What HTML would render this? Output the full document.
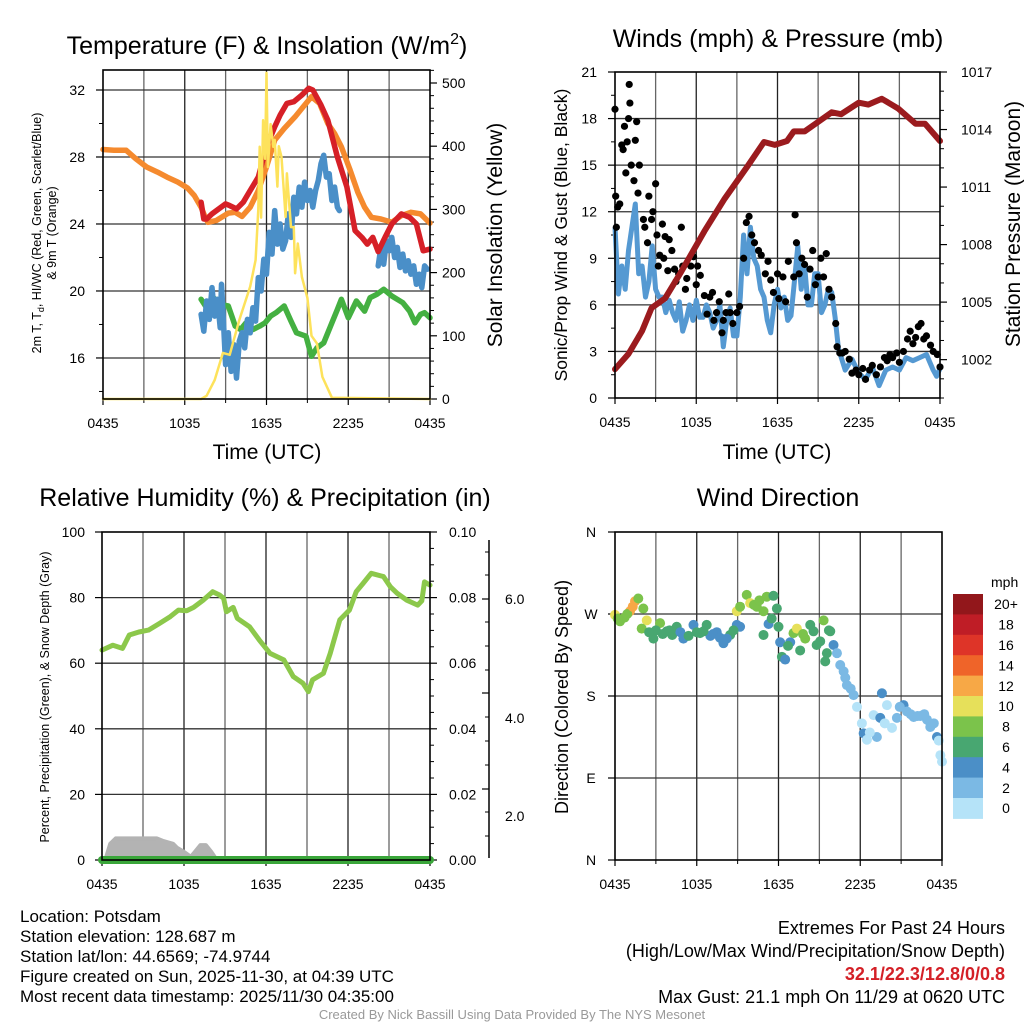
<!DOCTYPE html>
<html><head><meta charset="utf-8"><style>
html,body{margin:0;padding:0;background:#fff;}
svg{display:block;font-family:"Liberation Sans",Arial,sans-serif;}
</style></head><body>
<svg id="chart" width="1024" height="1024" viewBox="0 0 1024 1024" xmlns="http://www.w3.org/2000/svg">
<rect x="0" y="0" width="1024" height="1024" fill="#fff"/>
<text x="267" y="54" font-size="25" text-anchor="middle">Temperature (F) &amp; Insolation (W/m<tspan font-size="16" dy="-10">2</tspan><tspan dy="10">)</tspan></text>
<text x="778" y="47" font-size="25" text-anchor="middle">Winds (mph) &amp; Pressure (mb)</text>
<text x="265" y="506" font-size="25" text-anchor="middle">Relative Humidity (%) &amp; Precipitation (in)</text>
<text x="778" y="506" font-size="25" text-anchor="middle">Wind Direction</text>

<text x="267" y="459" font-size="21" text-anchor="middle">Time (UTC)</text>
<text x="777" y="459" font-size="21" text-anchor="middle">Time (UTC)</text>

<text transform="translate(41,233) rotate(-90)" font-size="12.5" text-anchor="middle">2m T, T<tspan font-size="9" dy="3">d</tspan><tspan dy="-3">, HI/WC (Red, Green, Scarlet/Blue)</tspan></text>
<text transform="translate(56,233) rotate(-90)" font-size="12.5" text-anchor="middle">&amp; 9m T (Orange)</text>
<text transform="translate(502,235) rotate(-90)" font-size="21" text-anchor="middle">Solar Insolation (Yellow)</text>
<text transform="translate(567,235) rotate(-90)" font-size="17.5" text-anchor="middle">Sonic/Prop Wind &amp; Gust (Blue, Black)</text>
<text transform="translate(1020,224) rotate(-90)" font-size="21" text-anchor="middle">Station Pressure (Maroon)</text>
<text transform="translate(49,697) rotate(-90)" font-size="12.5" text-anchor="middle">Percent, Precipitation (Green), &amp; Snow Depth (Gray)</text>
<text transform="translate(568,697) rotate(-90)" font-size="18" text-anchor="middle">Direction (Colored By Speed)</text>

<g font-size="17">
<text x="20" y="922">Location: Potsdam</text>
<text x="20" y="942">Station elevation: 128.687 m</text>
<text x="20" y="962">Station lat/lon: 44.6569; -74.9744</text>
<text x="20" y="982">Figure created on Sun, 2025-11-30, at 04:39 UTC</text>
<text x="20" y="1002">Most recent data timestamp: 2025/11/30 04:35:00</text>
</g>
<g font-size="18">
<text x="1005" y="934" text-anchor="end">Extremes For Past 24 Hours</text>
<text x="1005" y="957" text-anchor="end">(High/Low/Max Wind/Precipitation/Snow Depth)</text>
<text x="1005" y="980" text-anchor="end" font-weight="bold" fill="#d42027">32.1/22.3/12.8/0/0.8</text>
<text x="1005" y="1003" text-anchor="end">Max Gust: 21.1 mph On 11/29 at 0620 UTC</text>
</g>
<text x="512" y="1019" font-size="13" fill="#999" text-anchor="middle">Created By Nick Bassill Using Data Provided By The NYS Mesonet</text>
</svg>
<script>
// ---------- DATA ----------
const timeLabels = ["0435","1035","1635","2235","0435"];
// Panel 1: temperature (hours since 0435, degF)
const orangeT = [0,0.8,1.7,2.4,3.2,4.0,4.7,5.5,6.2,6.7,7.2,7.5,7.7,8.3,9.2,9.7,10.2,10.8,11.4,12.0,12.6,13.3,14.1,14.7,15.3,15.9,16.5,17.0,17.5,18.1,18.7,19.2,19.7,20.4,21.2,21.9,22.6,23.3,24];
const orangeV = [28.45,28.4,28.4,27.9,27.4,27.1,26.8,26.5,26.15,25.7,25.0,24.4,24.1,24.2,24.65,24.7,24.45,25.0,26.0,27.4,29.0,29.7,30.4,31.0,31.6,31.2,30.0,29.4,28.6,27.3,25.9,25.0,24.4,24.3,24.1,24.5,24.7,24.6,24.05];
const redT = [7.2,7.4,7.6,8.0,8.5,9.0,9.3,9.8,10.3,10.8,11.4,12.0,12.6,13.0,13.5,14.0,14.6,15.1,15.4,16.0,16.5,17.2,17.9,18.2,18.5,19.0,19.4,19.8,20.2,20.7,21.2,21.9,22.5,23.0,23.5,24];
const redV = [25.3,24.3,24.3,24.6,24.9,25.2,25.1,24.9,25.3,26.0,26.8,28.6,29.8,30.5,31.2,31.3,31.7,32.1,32.0,31.1,30.2,28.0,26.2,24.9,23.6,23.2,22.8,23.2,22.35,23.2,24.0,24.6,24.4,24.0,22.4,22.5];
const blueT = [7.2,7.4,7.6,7.8,8.0,8.2,8.4,8.6,8.7,8.85,9.0,9.2,9.4,9.6,9.8,10.0,10.2,10.4,10.6,10.8,11.0,11.2,11.4,11.6,11.8,12.0,12.2,12.4,12.6,12.8,13.0,13.2,13.4,13.6,13.8,14.0,14.2,14.4,14.6,14.8,15.0,15.2,15.4,15.6,15.8,16.0,16.2,16.4,16.6,16.8,17.0,17.2,17.35,18.0,20.2,20.4,20.6,20.8,21.0,21.2,21.4,21.6,21.8,22.0,22.2,22.4,22.6,22.8,23.0,23.2,23.4,23.6,23.8];
const blueV = [18.6,17.6,19.4,18.3,20.2,18.5,19.5,17.8,20.4,18.0,15.6,17.5,15.2,16.8,14.8,17.0,17.5,16.6,18.3,17.5,19.0,18.2,20.8,20.0,21.9,21.0,23.5,22.2,24.8,22.8,24.0,22.5,23.0,24.6,23.2,25.6,24.6,26.2,25.0,26.5,25.4,26.0,25.0,26.0,26.6,27.6,28.1,26.8,27.0,25.4,26.2,25.0,24.8,null,21.5,22.6,21.6,23.0,22.4,23.2,22.0,22.6,21.4,22.2,21.2,21.8,21.0,21.5,20.4,21.0,20.2,21.5,21.3];
const greenT = [7.2,7.6,8.1,8.6,9.2,9.5,9.7,10.1,10.5,11.0,11.5,11.9,12.3,12.7,13.3,13.8,14.2,14.9,15.2,15.3,15.7,16.2,16.8,17.2,17.5,18.0,18.6,19.2,19.6,20.1,20.6,21.2,22.0,22.5,22.9,23.3,23.6,24];
const greenV = [19.5,19.0,19.6,19.2,19.1,18.4,17.9,17.7,18.1,17.7,17.9,18.1,18.5,18.7,19.1,18.2,17.5,17.3,16.4,16.1,16.6,16.9,18.1,18.9,19.5,18.4,19.4,18.8,19.6,19.8,20.1,19.7,19.3,18.8,18.1,18.6,18.7,18.4];
const solarT = [0,7.2,7.6,8.2,8.8,9.3,10.0,10.8,11.2,11.4,11.5,11.6,11.75,11.9,12.0,12.1,12.3,12.5,12.6,12.8,12.9,13.1,13.4,13.5,13.8,14.0,14.1,14.3,14.6,15.0,15.3,15.7,16.1,16.8,24];
const solarV = [0,0,5,30,73,70,125,178,220,300,399,287,441,380,516,367,435,399,410,336,400,383,288,357,272,272,199,246,193,160,100,88,35,2,0];
// Panel 2: wind (mph) and pressure (mb)
const windT = [0,0.25,0.5,0.75,1.0,1.25,1.5,1.75,2.0,2.25,2.5,2.75,3.0,3.25,3.5,3.75,4.0,4.25,4.5,4.75,5.0,5.25,5.5,5.75,6.0,6.25,6.5,6.75,7.0,7.25,7.5,7.75,8.0,8.25,8.5,8.75,9.0,9.25,9.5,9.75,10.0,10.25,10.5,10.75,11.0,11.25,11.5,11.75,12.0,12.25,12.5,12.75,13.0,13.25,13.5,13.75,14.0,14.25,14.5,14.75,15.0,15.25,15.5,15.75,16.0,16.25,16.5,16.75,17.0,17.5,18.0,18.5,19.0,19.5,20.0,20.5,21.0,21.5,22.0,22.5,23.0,23.5,23.75,24.0];
const windV = [11.0,6.7,8.5,7.0,9.5,11.0,12.5,8.0,8.5,6.5,7.5,9.8,7.0,6.5,6.5,5.5,6.3,5.5,5.0,6.2,4.3,5.0,6.0,5.0,6.3,5.2,5.2,6.0,5.5,4.5,5.0,6.0,3.3,5.0,5.8,4.0,4.0,6.5,10.5,8.0,11.0,9.0,8.5,7.0,6.5,5.0,4.2,6.0,7.0,5.8,6.5,5.0,5.3,7.5,9.8,7.0,8.5,6.0,6.0,8.0,8.0,5.5,6.0,7.0,6.8,5.2,3.2,2.5,1.8,2.5,1.6,1.2,2.0,0.8,1.8,2.0,1.8,2.6,2.4,2.6,2.8,1.8,1.4,1.9];
const gustT = [0,0.05,0.1,0.2,0.35,0.5,0.6,0.7,0.8,0.9,1.0,1.05,1.1,1.2,1.4,1.5,1.6,1.7,1.8,2.1,2.2,2.4,2.5,2.7,2.8,3.0,3.1,3.2,3.3,3.5,3.6,3.7,3.9,4.0,4.2,4.4,4.5,4.7,4.9,5.0,5.2,5.3,5.6,5.8,6.0,6.1,6.3,6.6,6.8,7.0,7.2,7.3,7.5,7.7,7.9,8.0,8.2,8.4,8.5,8.7,9.0,9.2,9.5,9.7,9.9,10.1,10.3,10.6,10.8,11.1,11.3,11.5,11.7,12.0,12.1,12.4,12.6,12.8,13.2,13.3,13.4,13.6,13.8,14.0,14.2,14.4,14.6,14.8,15.0,15.2,15.4,15.6,15.8,16.0,16.3,16.4,16.6,16.8,17.0,17.3,17.5,17.8,18.0,18.3,18.5,18.8,19.0,19.3,19.6,19.9,20.1,20.3,20.5,20.8,21.0,21.3,21.6,21.8,22.0,22.2,22.4,22.6,22.8,23.0,23.3,23.5,23.8,24];
const gustV = [18.6,13,11,12.3,12.5,16.3,16,17.5,14.5,16.5,18,20.2,19,15,14,16.6,17.8,13.2,15,11.5,11,10,13,11.5,12,13.8,10.5,8.5,9.2,11.2,9,10.4,8.2,10.2,9.5,8.3,7.5,8,11,8.5,7,7.7,8.5,9.1,7.3,8.5,7.9,6.6,5.4,6.5,6.8,5.0,5.5,6.2,4.2,5.0,5.5,6.7,5.5,4.8,5.5,5.9,9.0,11.3,11.7,10.5,10.0,9.5,9.2,8.0,8.8,7.6,6.8,8.0,6.4,7.8,6.2,8.8,7.8,11.8,10.0,8.0,9.0,8.6,6.5,8.3,9.5,7.3,7.8,9.0,7.8,9.3,7.0,6.5,4.8,3.3,2.9,2.9,3.0,2.5,1.6,1.8,1.5,1.9,1.2,1.8,2.1,1.5,2.0,2.6,2.4,2.8,2.6,2.9,2.3,3.0,3.8,4.3,3.5,3.9,4.6,4.8,3.8,4.0,3.4,3.0,2.8,2.0];
const presT = [0,1.0,2.0,2.7,3.7,4.9,6.6,8.1,9.8,11.0,11.8,12.7,13.2,14.0,15.0,16.0,16.7,18.0,18.7,19.7,20.9,22.2,22.9,24];
const presV = [1001.5,1002.3,1003.5,1004.7,1005.2,1006.6,1008.7,1010.4,1012.1,1013.35,1013.2,1013.4,1013.9,1013.9,1014.4,1014.9,1014.8,1015.4,1015.3,1015.6,1015.1,1014.3,1014.3,1013.4];
// Panel 3: RH (%), precip (in), snow depth (in)
const rhT = [0,0.8,1.5,2.0,2.7,3.4,4.2,5.0,5.6,6.2,6.7,7.4,8.1,8.6,8.9,9.1,9.6,9.9,10.8,11.5,12.3,13.3,14.0,14.7,15.1,15.4,16.2,16.7,17.4,18.1,18.6,19.1,19.7,20.6,21.1,21.6,22.3,23.1,23.4,23.6,24];
const rhV = [64.0,65.5,64.5,68.6,69.5,70.1,72.1,74.2,76.2,76.0,77.0,79.2,81.8,80.8,79.8,75.7,77.0,73.7,71.1,67.1,63.0,61.0,55.9,53.9,51.3,54.9,56.9,63.0,73.2,76.2,81.8,84.3,87.4,86.4,83.3,81.3,79.2,77.7,79.0,84.8,83.8];
const precipT = [0,24];
const precipV = [0,0];
const snowT = [0,0.3,0.6,1.0,4.0,4.5,5.2,5.5,6.0,6.5,6.8,7.2,7.6,8.0,8.4,24];
const snowV = [0,0.1,0.6,0.8,0.8,0.7,0.6,0.45,0.3,0.12,0.3,0.55,0.55,0.3,0,0];
// Panel 4: wind direction (deg) colored by speed (mph)
const dirT = [0,0.37,1.1,1.47,1.71,2.08,2.33,1.96,2.82,3.31,3.8,4.53,5.02,5.76,6.24,6.73,7.47,7.96,8.45,8.94,9.18,8.94,9.18,9.67,9.92,10.41,10.9,11.14,11.63,11.88,11.27,10.9,12.0,12.12,12.25,12.49,12.86,13.1,13.35,13.59,13.96,14.33,14.57,15.06,15.31,15.55,15.8,16.04,16.29,15.43,16.53,16.78,17.02,17.51,17.76,18.12,18.25,18.49,18.98,19.22,19.47,19.59,19.96,20.33,20.69,21.18,21.43,21.92,22.41,22.9,23.14,23.63,23.76,23.88,24.0,0.7,3.0,4.2,6.0,7.0,0.2,0.9,1.3,2.5,3.5,4.0,4.8,5.4,6.5,7.2,7.7,8.2,8.7,10.2,10.6,11.5,12.7,13.8,14.8,15.7,16.9,17.3,18.7,19.8,20.9,21.7,22.2,22.7,23.4];
const dirV = [269,262,273,284,287,276,263,254,243,260,251,256,243,258,249,258,250,238,247,258,256,273,278,291,282,278,273,289,290,276,259,247,256,239,223,220,239,249,254,230,243,258,251,240,263,227,251,236,227,218,214,207,192,181,168,150,139,132,159,135,156,183,170,145,156,170,163,157,158,154,146,135,131,115,108,266,252,247,250,246,265,270,278,250,248,252,250,246,251,248,244,243,252,280,285,265,235,248,236,252,200,188,140,150,168,160,158,160,150];
const dirS = [10,8,12,12,8,8,10,8,6,8,6,6,4,4,6,6,4,4,6,4,4,10,8,8,10,8,8,8,6,6,4,6,6,4,6,4,4,8,10,6,8,6,6,6,8,6,6,4,2,6,2,2,2,2,0,0,4,0,0,2,4,4,0,0,2,4,2,2,2,2,2,4,0,0,0,8,6,6,6,4,8,8,12,6,6,6,4,6,6,4,4,4,6,8,8,6,6,8,6,6,2,2,0,0,2,2,2,2,2];
const speedBins = [0,2,4,6,8,10,12,14,16,18,20];
const speedLabels = ["0","2","4","6","8","10","12","14","16","18","20+"];
const speedColors = ["#b5e3f8","#7bb9e4","#4b8fc7","#48a771","#7bc34b","#e6e05a","#f7a846","#ef6429","#de3428","#bf1d26","#92171b"];

// ---------- HELPERS ----------
const NS = "http://www.w3.org/2000/svg";
const svg = document.getElementById("chart");
function mk(tag, attrs, parent) {
  const e = document.createElementNS(NS, tag);
  for (const k in attrs) e.setAttribute(k, attrs[k]);
  (parent || svg).appendChild(e);
  return e;
}
function scale(d0, d1, r0, r1) { return v => r0 + (v - d0) / (d1 - d0) * (r1 - r0); }
function pathFrom(ts, vs, xf, yf) {
  let d = "", pen = false;
  for (let i = 0; i < ts.length; i++) {
    if (vs[i] === null) { pen = false; continue; }
    d += (pen ? "L" : "M") + xf(ts[i]).toFixed(1) + "," + yf(vs[i]).toFixed(1);
    pen = true;
  }
  return d;
}
const P1 = {x0:103, x1:430, y0:70, y1:399};
const P2 = {x0:615, x1:940, y0:72, y1:398};
const P3 = {x0:102, x1:430, y0:532, y1:860};
const P4 = {x0:615, x1:942, y0:532, y1:860};

function panelFrame(P, name) {
  const g = mk("g", {});
  
  
  const tx = scale(0, 24, P.x0, P.x1);
  for (let h = 3; h < 24; h += 3) {
    const l = mk("line", {x1:tx(h), x2:tx(h), y1:P.y0, y2:P.y1, stroke:(h%6===0?"#222":"#666"), "stroke-width":1.3}, g);
    
    
  }
  for (let i = 0; i < timeLabels.length; i++) {
    const h = i * 6;
    const t = mk("line", {x1:tx(h), x2:tx(h), y1:P.y1, y2:P.y1 + 6, stroke:"#000", "stroke-width":1.2});
    
    
    const lb = mk("text", {x:tx(h), y:P.y1 + 29, "font-size":14, "text-anchor":"middle"});
    
    
    lb.textContent = timeLabels[i];
  }
  for (let h = 3; h < 24; h += 6) {
    const t = mk("line", {x1:tx(h), x2:tx(h), y1:P.y1, y2:P.y1 + 4, stroke:"#000", "stroke-width":1});
    
    
  }
  return tx;
}
function hgrid(P, yf, vals, name) {
  vals.forEach(v => {
    const l = mk("line", {x1:P.x0, x2:P.x1, y1:yf(v), y2:yf(v), stroke:"#333", "stroke-width":1.3});
    
    
  });
}
function yTicks(x, yf, majors, minors, labels, side, labelX, anchor, name) {
  const dir = side === "left" ? -1 : 1;
  majors.forEach((v, i) => {
    const t = mk("line", {x1:x, x2:x + dir * 7, y1:yf(v), y2:yf(v), stroke:"#000", "stroke-width":1.2});
    
    
    if (labels) {
      const lb = mk("text", {x:labelX, y:yf(v) + 5, "font-size":14, "text-anchor":anchor});
      
      
      lb.textContent = labels[i];
    }
  });
  minors.forEach(v => {
    const t = mk("line", {x1:x, x2:x + dir * 4, y1:yf(v), y2:yf(v), stroke:"#000", "stroke-width":1});
    
    
  });
}
function border(P, name) {
  const r = mk("rect", {x:P.x0, y:P.y0, width:P.x1 - P.x0, height:P.y1 - P.y0, fill:"none", stroke:"#000", "stroke-width":1.6});
  
  
}
function range(a, b, s) { const r = []; for (let v = a; v <= b + 1e-9; v += s) r.push(+v.toFixed(4)); return r; }

// ---------- PANEL 1 ----------
{
  const tx = panelFrame(P1, "temperature");
  const yT = scale(13.55, 32, 399, 90);
  const yS = scale(0, 500, 399, 83);
  hgrid(P1, yT, [16,20,24,28,32], "temperature");
  yTicks(P1.x0, yT, [16,20,24,28,32], [14,18,22,26,30], ["16","20","24","28","32"], "left", 85, "end", "temperature-y");
  yTicks(P1.x1, yS, range(0,500,100), range(20,520,20).filter(v => v % 100 && v < 525), ["0","100","200","300","400","500"], "right", 442, "start", "solar-y");
  const series = [
    [orangeT, orangeV, "#f58a2e", yT, "orange-9m-temperature-line"],
    [greenT, greenV, "#44b041", yT, "green-dewpoint-line"],
    [blueT, blueV, "#4a8fc8", yT, "blue-windchill-line"],
    [redT, redV, "#d62027", yT, "red-2m-temperature-line"],
    [solarT, solarV, "#fde25b", yS, "yellow-solar-insolation-line"]
  ];
  series.forEach(s => {
    const p = mk("path", {d:pathFrom(s[0], s[1], tx, s[3]), fill:"none", stroke:s[2], "stroke-width":(s[4].indexOf("solar") >= 0 ? 2.5 : 5.5), "stroke-linejoin":"round", "stroke-linecap":"round"});
    
    
  });
  border(P1, "temperature");
}

// ---------- PANEL 2 ----------
{
  const tx = panelFrame(P2, "wind");
  const yW = scale(0, 21, 398, 72);
  const yP = scale(1000, 1017, 398, 72);
  hgrid(P2, yW, [3,6,9,12,15,18], "wind");
  yTicks(P2.x0, yW, range(0,21,3), range(1.5,19.5,3), ["0","3","6","9","12","15","18","21"], "left", 597, "end", "wind-y");
  yTicks(P2.x1, yP, [1002,1005,1008,1011,1014,1017], range(1000,1017,1).filter(v => (v - 1002) % 3), ["1002","1005","1008","1011","1014","1017"], "right", 961, "start", "pressure-y");
  const wl = mk("path", {d:pathFrom(windT, windV, tx, yW), fill:"none", stroke:"#5599d2", "stroke-width":5, "stroke-linejoin":"round"});
  
  
  const gg = mk("g", {});
  
  
  for (let i = 0; i < gustT.length; i++) {
    const c = mk("circle", {cx:tx(gustT[i]), cy:yW(gustV[i]), r:3.6, fill:"#000"}, gg);
    
    
  }
  const pl = mk("path", {d:pathFrom(presT, presV, tx, yP), fill:"none", stroke:"#9b1b1e", "stroke-width":6, "stroke-linejoin":"round", "stroke-linecap":"round"});
  
  
  border(P2, "wind");
}

// ---------- PANEL 3 ----------
{
  const tx = panelFrame(P3, "humidity");
  const yR = scale(0, 100, 860, 532);
  const yPr = scale(0, 0.10, 860, 532);
  const ySn = scale(0, 1, 860, 833);
  hgrid(P3, yR, [20,40,60,80], "humidity");
  yTicks(P3.x0, yR, range(0,100,20), [], ["0","20","40","60","80","100"], "left", 85, "end", "humidity-y");
  yTicks(P3.x1, yPr, range(0,0.1,0.02), range(0.005,0.1,0.005).filter(v => Math.round(v*1000) % 20), ["0.00","0.02","0.04","0.06","0.08","0.10"], "right", 449, "start", "precip-y");
  const ax = mk("line", {x1:489, x2:489, y1:540, y2:858, stroke:"#000", "stroke-width":1.5});
  
  
  [599,693,789].forEach(y => {
    const t = mk("line", {x1:489, x2:482, y1:y, y2:y, stroke:"#000", "stroke-width":1.2});
    
    
  });
  [552,575,622,646,670,717,741,765,812,836].forEach(y => {
    const t = mk("line", {x1:489, x2:485, y1:y, y2:y, stroke:"#000", "stroke-width":1});
    
    
  });
  [["6.0",604],["4.0",723],["2.0",821]].forEach(a => {
    const lb = mk("text", {x:505, y:a[1], "font-size":14});
    
    
    lb.textContent = a[0];
  });
  let d = "M" + tx(snowT[0]) + "," + ySn(0);
  for (let i = 0; i < snowT.length; i++) d += "L" + tx(snowT[i]).toFixed(1) + "," + ySn(snowV[i]).toFixed(1);
  d += "L" + tx(snowT[snowT.length-1]) + "," + ySn(0) + "Z";
  const sa = mk("path", {d:d, fill:"#b3b3b3", stroke:"#b3b3b3", "stroke-width":4, "stroke-linejoin":"round"});
  
  
  const pr = mk("path", {d:pathFrom(precipT, precipV, tx, yPr), fill:"none", stroke:"#3aa63a", "stroke-width":8, "stroke-linecap":"round"});
  
  
  const rl = mk("path", {d:pathFrom(rhT, rhV, tx, yR), fill:"none", stroke:"#8cc84b", "stroke-width":5, "stroke-linejoin":"round", "stroke-linecap":"round"});
  
  
  border(P3, "humidity");
}

// ---------- PANEL 4 ----------
{
  const tx = panelFrame(P4, "direction");
  const yD = scale(0, 360, 860, 532);
  hgrid(P4, yD, [90,180,270], "direction");
  yTicks(P4.x0, yD, [0,90,180,270,360], [], ["N","E","S","W","N"], "left", 591, "middle", "direction-y");
  const g = mk("g", {});
  
  
  for (let i = 0; i < dirT.length; i++) {
    let bi = 0;
    for (let k = 0; k < speedBins.length; k++) if (dirS[i] >= speedBins[k]) bi = k;
    const c = mk("circle", {cx:tx(dirT[i]), cy:yD(dirV[i]), r:5, fill:speedColors[bi]}, g);
    
    
  }
  border(P4, "direction");
  const cb = mk("g", {});
  
  
  const top = 594, h = 20.4;
  const ut = mk("text", {x:991, y:587, "font-size":14}, cb);
  
  
  ut.textContent = "mph";
  for (let k = 0; k < speedColors.length; k++) {
    const idx = speedColors.length - 1 - k;
    const r = mk("rect", {x:953, y:top + k*h, width:30, height:h + 0.5, fill:speedColors[idx]}, cb);
    
    
    const lb = mk("text", {x:1006, y:top + k*h + h/2 + 5, "font-size":14, "text-anchor":"middle"}, cb);
    
    
    lb.textContent = speedLabels[idx];
  }
}
</script>
</body></html>
